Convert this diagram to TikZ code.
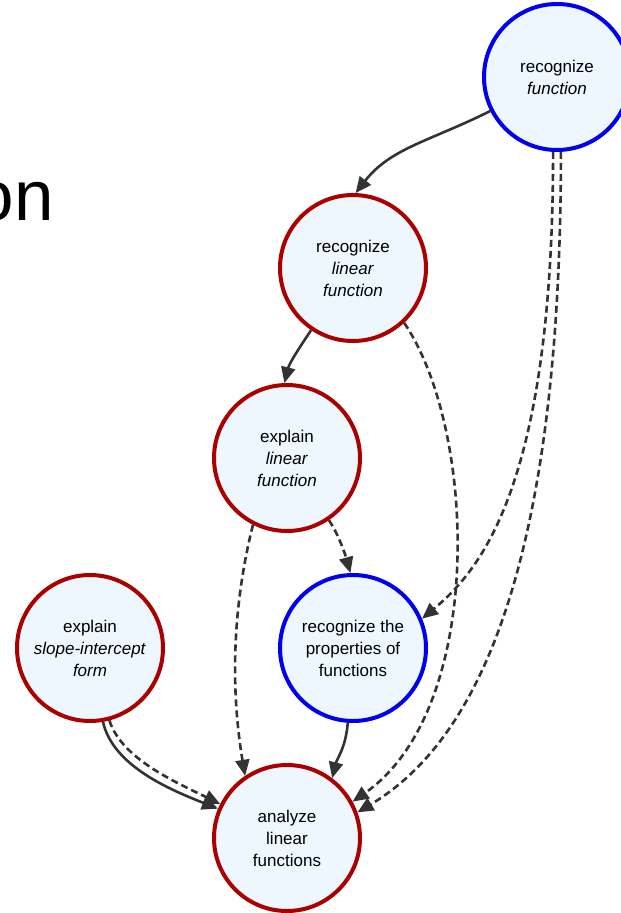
\documentclass[tikz,border=0pt]{standalone}
\usepackage{fontspec}
\setmainfont{Liberation Sans}
\usetikzlibrary{arrows.meta}

\definecolor{conceptfill}{HTML}{EEF6FE}
\definecolor{skillred}{HTML}{AA0000}
\definecolor{topicblue}{HTML}{0000EE}
\definecolor{linkgray}{HTML}{333333}

\tikzset{
  concept/.style={circle, draw, line width=4pt, fill=conceptfill,
    minimum size=146pt, inner sep=0pt, align=center,
    font=\fontsize{17}{22}\selectfont},
  skill/.style={concept, draw=skillred},
  topic/.style={concept, draw=topicblue},
  link/.style={draw=linkgray, line width=2.6pt,
    -{Triangle[length=16pt,width=14pt]}},
  softlink/.style={link, dash pattern=on 7pt off 4pt},
}

\begin{document}
\begin{tikzpicture}[x=1pt, y=-1pt]
  \useasboundingbox (0,0) rectangle (621,913);
  \clip (0,0) rectangle (621,913);

  % heading fragment at the left edge
  \node[anchor=base east, inner sep=0pt, font=\fontsize{71}{80}\selectfont]
    (title) at (54,220) {on};

  % concepts
  \node[topic] (rf)  at (557,77)  {recognize\\\textit{function}};
  \node[skill] (rlf) at (353,268) {recognize\\\textit{linear}\\\textit{function}};
  \node[skill] (elf) at (287,458) {explain\\\textit{linear}\\\textit{function}};
  \node[topic] (rp)  at (353,648) {recognize the\\properties of\\functions};
  \node[skill] (esi) at (90,648)  {explain\\\textit{slope-intercept}\\\textit{form}};
  \node[skill] (alf) at (287,838) {analyze\\linear\\functions};

  % prerequisite links
  \draw[link] (rf.207) .. controls +(-60,30) and +(35,-45) .. (rlf.88);
  \draw[softlink] (rf.267) .. controls +(0,330) and +(60,-50) .. (rp.23);
  \draw[softlink] (rf.273) .. controls +(0,460) and +(100,-60) .. (alf.20);

  \draw[link] (rlf.236) .. controls +(-12,18) and +(5,-20) .. (elf.92);
  \draw[softlink] (rlf.313) .. controls +(73,107) and +(133,-93) .. (alf.29);

  \draw[softlink] (elf.304) .. controls +(10,15) and +(-5,-18) .. (rp.92);
  \draw[softlink] (elf.243) .. controls +(-20,80) and +(-15,-90) .. (alf.124);

  \draw[link] (rp.266) .. controls +(-2,25) and +(5,-20) .. (alf.53);

  \draw[link] (esi.280) .. controls +(10,45) and +(-45,-18) .. (alf.157);
  \draw[softlink] (esi.285) .. controls +(12,38) and +(-45,-22) .. (alf.153);
\end{tikzpicture}
\end{document}
